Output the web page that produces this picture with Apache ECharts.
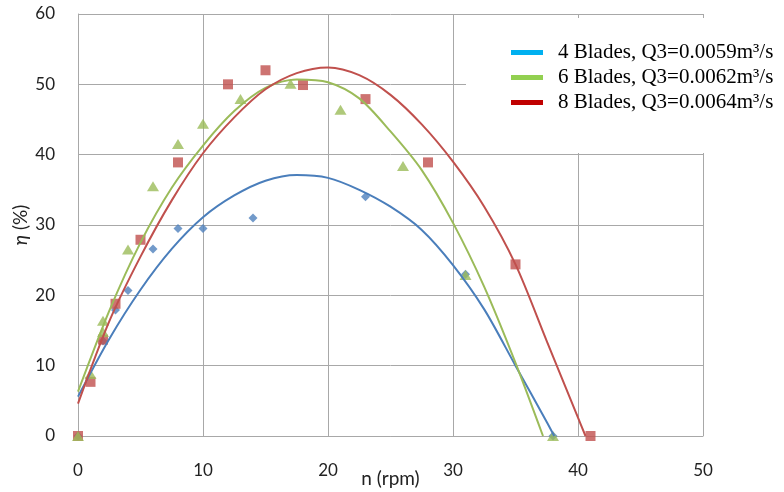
<!DOCTYPE html>
<html>
<head>
<meta charset="utf-8">
<script src="https://cdn.jsdelivr.net/npm/echarts@6/dist/echarts.min.js"></script>
<style>
  html, body { margin: 0; padding: 0; background: #fff; }
  #main { width: 784px; height: 492px; }
</style>
</head>
<body>
<div id="main"></div>
<script>
'use strict'

// measured points, n (rpm) vs efficiency (%)
const blueX = [0, 2, 3, 4, 6, 8, 10, 14, 23, 31, 38];
const blueY = [0, 13.5, 17.9, 20.7, 26.6, 29.5, 29.5, 31.0, 34.0, 23.0, 0];
const greenX = [0, 1, 2, 2, 4, 6, 8, 10, 13, 17, 21, 26, 31, 38];
const greenY = [0, 8.8, 14.8, 16.4, 26.5, 35.5, 41.5, 44.4, 47.9, 50.1, 46.4, 38.4, 22.9, 0];
const redX = [0, 1, 2, 3, 5, 8, 12, 15, 18, 23, 28, 35, 41];
const redY = [0, 7.7, 13.7, 18.8, 27.9, 38.9, 50.0, 52.0, 49.9, 47.9, 38.9, 24.4, 0];

// trend curves
const blueFitX = [0, 2.5, 5, 7.5, 10, 12.5, 15, 17.5, 20, 22.5, 25, 27.5, 30, 32.5, 35, 37.5, 38.1];
const blueFitY = [5.6, 13.8, 20.8, 26.6, 31.1, 34.2, 36.3, 37.1, 36.7, 35.0, 32.6, 29.3, 24.3, 18.0, 10, 2, 0];
const greenFitX = [0, 2.5, 5, 7.5, 10, 12.5, 15, 17.5, 20, 22.5, 25, 27.5, 30, 32.5, 35, 37.2];
const greenFitY = [6.3, 17.8, 27.5, 35.3, 41.3, 46.2, 49.5, 50.7, 50.3, 48.0, 43.3, 37.8, 30.3, 21.2, 10.4, 0];
const redFitX = [0, 2.5, 5, 7.5, 10, 12.5, 15, 17.5, 20, 22.5, 25, 27.5, 30, 32.5, 35, 37.5, 40, 40.6];
const redFitY = [4.6, 16.3, 25.5, 33.5, 40.2, 45.3, 49.3, 51.6, 52.4, 51.3, 48.5, 44.3, 39.0, 32.6, 24.4, 13.5, 2.6, 0];

const legendNames = [
  '4 Blades, Q3=0.0059m³/s',
  '6 Blades, Q3=0.0062m³/s',
  '8 Blades, Q3=0.0064m³/s'
];
const legendColors = ['#00b0f0', '#92d050', '#c00000'];

const xMin = 0, xMax = 50, xStep = 10;
const yMin = 0, yMax = 60, yStep = 10;

function pairs(xs, ys) {
  return xs.map((x, i) => [x, ys[i]]);
}

var myChart = echarts.init(document.getElementById('main'), null, { renderer: 'canvas' });

var gridColor = '#a8a8a8';
var labelFont = 'Lato, "Open Sans", sans-serif';

var option = {
  animation: false,
  grid: { left: 78, right: 81, top: 14, bottom: 56, outerBoundsMode: 'none', containLabel: false },
  legend: {
    orient: 'vertical',
    left: 466,
    top: 18,
    padding: [24, 4, 40, 45],
    backgroundColor: '#fff',
    itemGap: 4,
    itemWidth: 32,
    itemHeight: 5,
    icon: 'rect',
    textStyle: {
      fontFamily: '"Liberation Serif", "Times New Roman", serif',
      fontSize: 21,
      color: '#000',
      padding: [0, 0, 0, 10]
    },
    data: legendNames.map((n, i) => ({ name: n, itemStyle: { color: legendColors[i] } }))
  },
  xAxis: {
    type: 'value',
    min: xMin, max: xMax, interval: xStep,
    name: 'n (rpm)',
    nameLocation: 'middle',
    nameGap: 33,
    nameMoveOverlap: false,
    nameTextStyle: { fontFamily: labelFont, fontSize: 19, color: '#222' },
    axisLine: { show: true, lineStyle: { color: gridColor } },
    axisTick: { show: false },
    axisLabel: { margin: 26, fontFamily: labelFont, fontSize: 17, color: '#222' },
    splitLine: { show: true, lineStyle: { color: gridColor, width: 1 } }
  },
  yAxis: {
    type: 'value',
    min: yMin, max: yMax, interval: yStep,
    name: '{i|η} (%)',
    nameLocation: 'middle',
    nameGap: 48,
    nameMoveOverlap: false,
    nameTextStyle: {
      fontFamily: labelFont, fontSize: 19, color: '#222',
      rich: { i: { fontFamily: labelFont, fontSize: 19, fontStyle: 'italic', color: '#222' } }
    },
    axisLine: { show: true, lineStyle: { color: gridColor } },
    axisTick: { show: false },
    axisLabel: { margin: 23, fontFamily: labelFont, fontSize: 17, color: '#222' },
    splitLine: { show: true, lineStyle: { color: gridColor, width: 1 } }
  },
  series: [
    {
      name: 'pts4', type: 'scatter', symbol: 'diamond', symbolSize: 9,
      itemStyle: { color: '#4f81bd' }, z: 2,
      data: pairs(blueX, blueY)
    },
    {
      name: 'pts8', type: 'scatter', symbol: 'rect', symbolSize: 10,
      itemStyle: { color: '#c0504d' }, z: 2,
      data: pairs(redX, redY)
    },
    {
      name: 'pts6', type: 'scatter', symbol: 'triangle', symbolSize: [12, 10],
      itemStyle: { color: '#9bbb59' }, z: 2,
      data: pairs(greenX, greenY)
    },
    {
      name: legendNames[0], type: 'line', smooth: 0.3, showSymbol: false, z: 3,
      lineStyle: { color: '#4a7ebb', width: 2 }, itemStyle: { color: legendColors[0] },
      data: pairs(blueFitX, blueFitY)
    },
    {
      name: legendNames[1], type: 'line', smooth: 0.3, showSymbol: false, z: 3,
      lineStyle: { color: '#9bbb59', width: 2 }, itemStyle: { color: legendColors[1] },
      data: pairs(greenFitX, greenFitY)
    },
    {
      name: legendNames[2], type: 'line', smooth: 0.3, showSymbol: false, z: 3,
      lineStyle: { color: '#c0504d', width: 2 }, itemStyle: { color: legendColors[2] },
      data: pairs(redFitX, redFitY)
    }
  ]
};

myChart.setOption(option);
</script>
</body>
</html>
